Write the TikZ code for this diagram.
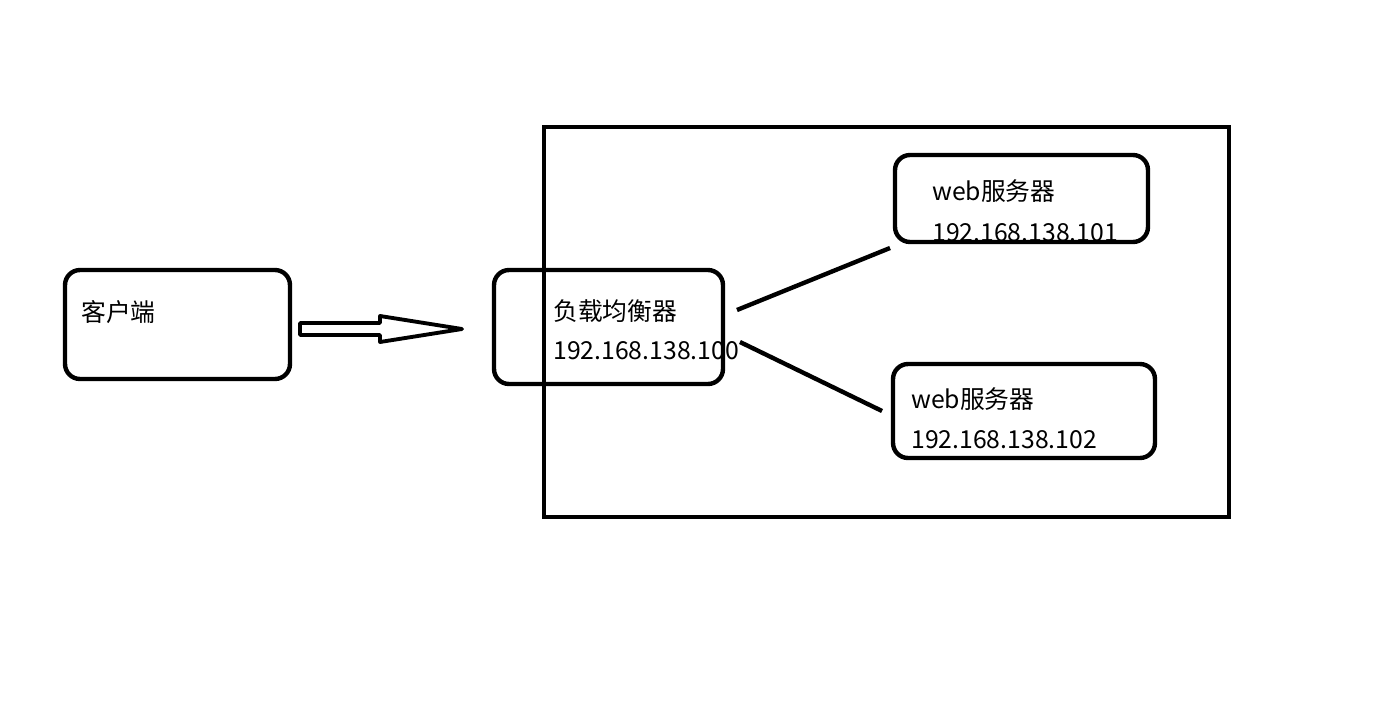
\documentclass[tikz,border=0pt]{standalone}
\usepackage{fontspec}
\setmainfont{Noto Sans CJK SC}
\usetikzlibrary{calc}
\tikzset{
  every node/.style={font=\fontsize{14.1pt}{16pt}\selectfont},
  box/.style={draw, rounded corners=0.3cm, line width=2.5pt, outer sep=0pt,
              inner sep=0pt},
  frame/.style={draw, line width=2.5pt},
  tag/.style={anchor=base west, inner sep=0pt},
  link/.style={line width=2.5pt},
  pushArrow/.style={draw, line width=2.2pt, line join=round},
}

\begin{document}
\begin{tikzpicture}[x=0.02cm, y=-0.02cm]
\useasboundingbox (0,0) rectangle (1395,703);

% ------------------------------------------------------- the cluster frame
\draw[frame] (544,127) rectangle (1229,517);

% ---------------------------------------------------------------- the client
\node[box, minimum width=4.5cm, minimum height=2.18cm] (client) at (177.5,324.5) {};
\node[tag] (clientName) at (81,321) {客户端};

% ------------------------------------------------------- the load balancer
\node[box, minimum width=4.58cm, minimum height=2.28cm] (lb) at (608.5,327) {};
\node[tag] (lbName) at (553,320) {负载均衡器};
\node[tag] (lbAddr) at (553,359) {192.168.138.100};

% -------------------------------------------------------- the web servers
\node[box, minimum width=5.06cm, minimum height=1.74cm] (web1) at (1021.5,198.5) {};
\node[tag] (web1Name) at (932,200) {web服务器};
\node[tag] (web1Addr) at (932,241) {192.168.138.101};

\node[box, minimum width=5.24cm, minimum height=1.88cm] (web2) at (1024,411) {};
\node[tag] (web2Name) at (911,408) {web服务器};
\node[tag] (web2Addr) at (911,448) {192.168.138.102};

% ---------------------------------------------- the request goes to the LB
\draw[pushArrow] ($(client.east)+(10,-1.5)$) -- ++(80,0) -- ++(0,-7)
  -- ($(lb.west)+(-32,2)$) -- ($(client.east)+(90,17.5)$) -- ++(0,-7)
  -- ++(-80,0) -- cycle;

% -------------------------------------------- the LB spreads to the servers
\draw[link] ($(lb.east)+(14,-17)$) -- ($(web1.south west)+(-5,6)$);
\draw[link] ($(lb.east)+(17,15)$) -- ($(web2.west)+(-11,0)$);

\end{tikzpicture}
\end{document}
